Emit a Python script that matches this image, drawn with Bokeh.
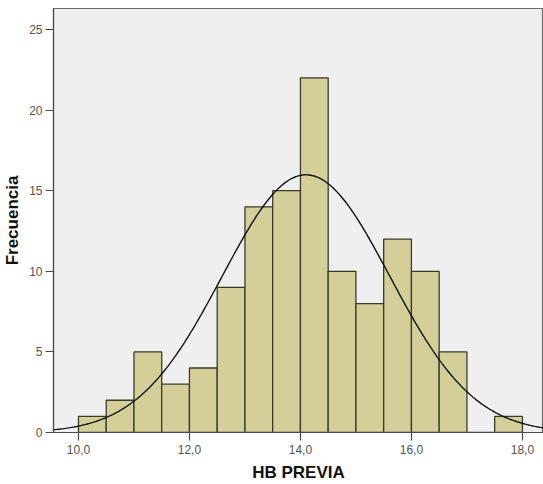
import numpy as np
from bokeh.plotting import figure
from bokeh.models import FixedTicker, Range1d
from bokeh.embed import file_html
from bokeh.resources import INLINE

# Data
bin_left = [10.0, 10.5, 11.0, 11.5, 12.0, 12.5, 13.0, 13.5, 14.0, 14.5, 15.0, 15.5, 16.0, 16.5, 17.0, 17.5]
counts = [1, 2, 5, 3, 4, 9, 14, 15, 22, 10, 8, 12, 10, 5, 0, 1]
bin_width = 0.5
x_ticks = [10, 12, 14, 16, 18]
x_tick_labels = ["10,0", "12,0", "14,0", "16,0", "18,0"]
y_ticks = [0, 5, 10, 15, 20, 25]
fit_mean = 14.1
fit_sd = 1.51

n_total = sum(counts)
bin_right = [b + bin_width for b in bin_left]

p = figure(width=543, height=484, output_backend="svg", toolbar_location=None,
           x_range=Range1d(9.55, 18.38), y_range=Range1d(0, 26.3),
           min_border_left=10, min_border_right=0, min_border_top=8, min_border_bottom=10)

p.background_fill_color = "#EFEFEF"
p.border_fill_color = "white"
p.outline_line_color = "#6b6b6b"
p.outline_line_width = 1.2
p.xgrid.visible = False
p.ygrid.visible = False

p.quad(left=bin_left, right=bin_right, top=counts, bottom=0,
       fill_color="#D4CF98", line_color="#3b3a2e", line_width=1.3)

xs = np.linspace(9.55, 18.38, 300)
ys = n_total * bin_width / (fit_sd * np.sqrt(2 * np.pi)) * np.exp(-0.5 * ((xs - fit_mean) / fit_sd) ** 2)
p.line(xs, ys, line_color="#111111", line_width=1.4)

p.xaxis.ticker = FixedTicker(ticks=x_ticks)
p.xaxis.major_label_overrides = {t: l for t, l in zip(x_ticks, x_tick_labels)}
p.yaxis.ticker = FixedTicker(ticks=y_ticks)

for ax in (p.xaxis[0], p.yaxis[0]):
    ax.minor_tick_line_color = None
    ax.major_tick_out = 8
    ax.major_tick_in = 0
    ax.axis_line_color = "#4a4a4a"
    ax.axis_line_width = 1.2
    ax.major_tick_line_color = "#4a4a4a"
    ax.major_tick_line_width = 1.2
    ax.major_label_text_font = "Liberation Sans"
    ax.major_label_text_font_size = "12px"
    ax.major_label_text_color = "#555555"
    ax.axis_label_text_font = "Liberation Sans"
    ax.axis_label_text_font_style = "bold"
    ax.axis_label_text_font_size = "17px"
    ax.axis_label_text_color = "#111111"

p.xaxis.axis_label = "HB PREVIA"
p.yaxis.axis_label = "Frecuencia"
p.xaxis.major_label_standoff = 4
p.yaxis.major_label_standoff = 3
p.xaxis.axis_label_standoff = 6
p.yaxis.axis_label_standoff = 4

open("out.html", "w").write(file_html(p, INLINE))
